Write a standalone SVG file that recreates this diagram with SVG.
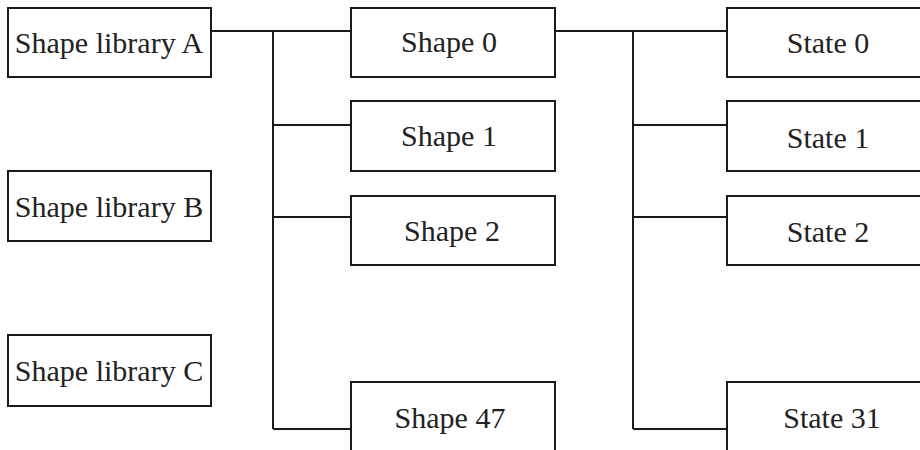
<svg xmlns="http://www.w3.org/2000/svg" width="920" height="450" viewBox="0 0 920 450">
<style>
.box{fill:#fff;stroke:#1a1a1a;stroke-width:2}
.lbl{font-family:"Liberation Serif","Times New Roman",serif;font-size:30px;fill:#222;text-anchor:middle}
.conn{fill:none;stroke:#1a1a1a;stroke-width:2}
</style>
<rect width="920" height="450" fill="#fdfdfd"/>
<g id="connectors" class="conn">
<path d="M211 31H351"/>
<path d="M273 31V429"/>
<path d="M273 125H351M273 217H351M273 429H351"/>
<path d="M555 31H727"/>
<path d="M633 31V429"/>
<path d="M633 125H727M633 217H727M633 429H727"/>
</g>
<g id="libA"><rect class="box" x="8" y="8" width="203" height="69"/><text class="lbl" x="109" y="53">Shape library A</text></g>
<g id="libB"><rect class="box" x="8" y="171" width="203" height="70"/><text class="lbl" x="109" y="217">Shape library B</text></g>
<g id="libC"><rect class="box" x="8" y="335" width="203" height="71"/><text class="lbl" x="109" y="381">Shape library C</text></g>
<g id="shape0"><rect class="box" x="351" y="8" width="204" height="69"/><text class="lbl" x="449" y="52">Shape 0</text></g>
<g id="shape1"><rect class="box" x="351" y="101" width="204" height="70"/><text class="lbl" x="449" y="146">Shape 1</text></g>
<g id="shape2"><rect class="box" x="351" y="196" width="204" height="69"/><text class="lbl" x="452" y="241">Shape 2</text></g>
<g id="shape47"><rect class="box" x="351" y="382" width="204" height="72"/><text class="lbl" x="450" y="428">Shape 47</text></g>
<g id="state0"><rect class="box" x="727" y="8" width="204" height="69"/><text class="lbl" x="828" y="53">State 0</text></g>
<g id="state1"><rect class="box" x="727" y="101" width="204" height="70"/><text class="lbl" x="828" y="148">State 1</text></g>
<g id="state2"><rect class="box" x="727" y="196" width="204" height="69"/><text class="lbl" x="828" y="242">State 2</text></g>
<g id="state31"><rect class="box" x="727" y="382" width="204" height="72"/><text class="lbl" x="832" y="428">State 31</text></g>
</svg>
